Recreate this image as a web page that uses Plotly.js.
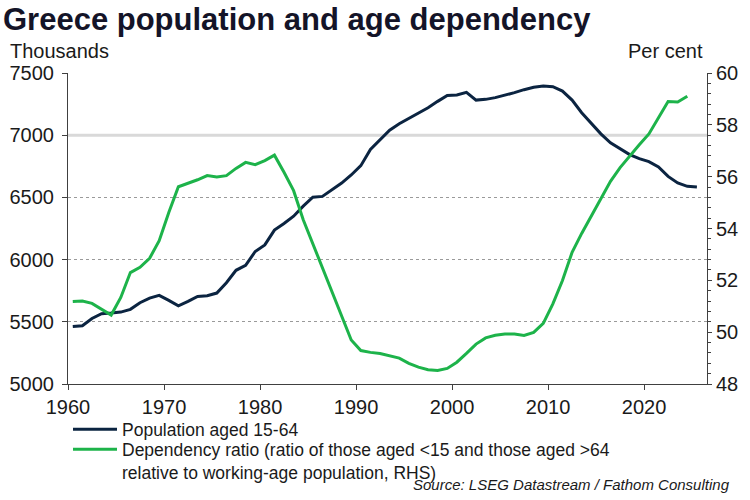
<!DOCTYPE html>
<html>
<head>
<meta charset="utf-8">
<script src="https://cdn.plot.ly/plotly-3.0.1.min.js"></script>
<style>html,body{margin:0;padding:0;background:#fff;}#chart{width:750px;height:500px;}</style>
</head>
<body>
<div id="chart"></div>
<script>
// ---- Data ----
const years = [1960,1961,1962,1963,1964,1965,1966,1967,1968,1969,
  1970,1971,1972,1973,1974,1975,1976,1977,1978,1979,
  1980,1981,1982,1983,1984,1985,1986,1987,1988,1989,
  1990,1991,1992,1993,1994,1995,1996,1997,1998,1999,
  2000,2001,2002,2003,2004,2005,2006,2007,2008,2009,
  2010,2011,2012,2013,2014,2015,2016,2017,2018,2019,
  2020,2021,2022,2023,2024,2025];

// Population aged 15-64, thousands (1960-2025)
const population = [5462,5468,5527,5565,5570,5578,5600,5653,5690,5712,
  5672,5629,5664,5704,5710,5731,5814,5914,5954,6065,
  6118,6237,6290,6349,6430,6502,6508,6561,6615,6680,
  6755,6885,6965,7040,7092,7135,7183,7221,7272,7320,
  7323,7344,7282,7288,7302,7320,7342,7366,7385,7395,
  7390,7355,7282,7181,7094,7011,6939,6890,6844,6812,
  6788,6745,6669,6616,6589,6584];

// Dependency ratio, per cent (1960-2024)
const dependency = [51.18,51.20,51.11,50.89,50.66,51.34,52.30,52.50,52.85,53.53,
  54.62,55.61,55.74,55.88,56.04,55.99,56.04,56.32,56.55,56.46,
  56.62,56.83,56.17,55.46,54.34,53.40,52.48,51.52,50.62,49.70,
  49.29,49.22,49.18,49.10,49.00,48.80,48.65,48.55,48.52,48.60,
  48.84,49.18,49.54,49.78,49.88,49.93,49.93,49.87,49.99,50.34,
  51.09,51.99,53.08,53.81,54.49,55.14,55.82,56.35,56.81,57.23,
  57.65,58.29,58.90,58.88,59.10];

// left-axis values carrying a dotted grid line; 7000 carries a solid light line
const dottedGridValues = [5500, 6000, 6500, 7500];
const solidGridValue = 7000;

const seriesNames = [
  'Population aged 15-64',
  'Dependency ratio (ratio of those aged &lt;15 and those aged &gt;64<br>relative to working-age population, RHS)'
];
const titleText = 'Greece population and age dependency';
const leftUnit = 'Thousands';
const rightUnit = 'Per cent';
const sourceText = 'Source: LSEG Datastream / Fathom Consulting';

// annual observations plotted at mid-year
const toDate = y => y + '-07-01';

const NAVY = '#0b2441';
const GREEN = '#1db34a';
const FONT = 'Liberation Sans, Arial, sans-serif';
const TXT = '#1a1a1a';

const traces = [
  {
    x: years.map(toDate), y: population, name: seriesNames[0],
    type: 'scatter', mode: 'lines', yaxis: 'y', legend: 'legend',
    line: {color: NAVY, width: 3}
  },
  {
    x: years.slice(0, dependency.length).map(toDate), y: dependency, name: seriesNames[1],
    type: 'scatter', mode: 'lines', yaxis: 'y2', legend: 'legend2',
    line: {color: GREEN, width: 3}
  }
];

const legendCommon = {
  x: 0.0, xanchor: 'left', yanchor: 'top',
  font: {family: FONT, size: 17.5, color: TXT},
  valign: 'top', itemwidth: 44, bgcolor: 'rgba(0,0,0,0)'
};

const layout = {
  width: 750, height: 500,
  margin: {l: 68, r: 43, t: 73, b: 116, autoexpand: false},
  paper_bgcolor: '#fff', plot_bgcolor: '#fff',
  font: {family: FONT, color: TXT, size: 20},
  title: {
    text: '<b>' + titleText + '</b>',
    x: 0.004, xanchor: 'left', xref: 'container',
    y: 0.984, yanchor: 'top', yref: 'container',
    font: {family: FONT, size: 31, color: '#141428'}
  },
  showlegend: true,
  legend: Object.assign({}, legendCommon, {y: -0.088}),
  legend2: Object.assign({}, legendCommon, {y: -0.152}),
  xaxis: {
    type: 'date',
    range: ['1960-01-01', '2026-07-20'],
    tick0: '1960-01-01', dtick: 'M120', tickformat: '%Y',
    showgrid: false, zeroline: false,
    showline: true, linecolor: '#404040', linewidth: 1,
    ticks: 'outside', ticklen: 5, tickcolor: '#404040',
    tickfont: {size: 20, color: TXT}
  },
  yaxis: {
    range: [5000, 7500], dtick: 500, tick0: 5000,
    showgrid: false,
    minor: {tickmode: 'array', tickvals: dottedGridValues, ticks: '',
            showgrid: true, gridcolor: '#9a9a9a', griddash: 'dot', gridwidth: 1},
    zeroline: false,
    showline: true, linecolor: '#404040', linewidth: 1,
    ticks: 'outside', ticklen: 5, tickcolor: '#404040',
    ticklabelstandoff: 4,
    tickfont: {size: 20, color: TXT}
  },
  yaxis2: {
    overlaying: 'y', side: 'right',
    range: [48, 60], dtick: 2, tick0: 48,
    showgrid: false, zeroline: false,
    showline: true, linecolor: '#404040', linewidth: 1,
    ticks: 'outside', ticklen: 4, tickcolor: '#404040',
    minor: {dtick: 0.4, ticks: 'outside', ticklen: 3, tickcolor: '#404040', showgrid: false},
    tickfont: {size: 20, color: TXT}
  },
  shapes: [
    {type: 'line', xref: 'paper', x0: 0, x1: 1, yref: 'y', y0: solidGridValue, y1: solidGridValue,
     line: {color: '#d9d9d9', width: 3}, layer: 'below'}
  ],
  annotations: [
    {text: leftUnit, xref: 'paper', yref: 'paper', x: -0.094, y: 1.03,
     xanchor: 'left', yanchor: 'bottom', showarrow: false,
     font: {family: FONT, size: 20, color: TXT}},
    {text: rightUnit, xref: 'paper', yref: 'paper', x: 0.997, y: 1.03,
     xanchor: 'right', yanchor: 'bottom', showarrow: false,
     font: {family: FONT, size: 20, color: TXT}},
    {text: '<i>' + sourceText + '</i>', xref: 'paper', yref: 'paper', x: 1.039, y: -0.357,
     xanchor: 'right', yanchor: 'bottom', showarrow: false,
     font: {family: FONT, size: 15, color: TXT}}
  ]
};

Plotly.newPlot('chart', traces, layout, {staticPlot: true, displayModeBar: false});
</script>
</body>
</html>
